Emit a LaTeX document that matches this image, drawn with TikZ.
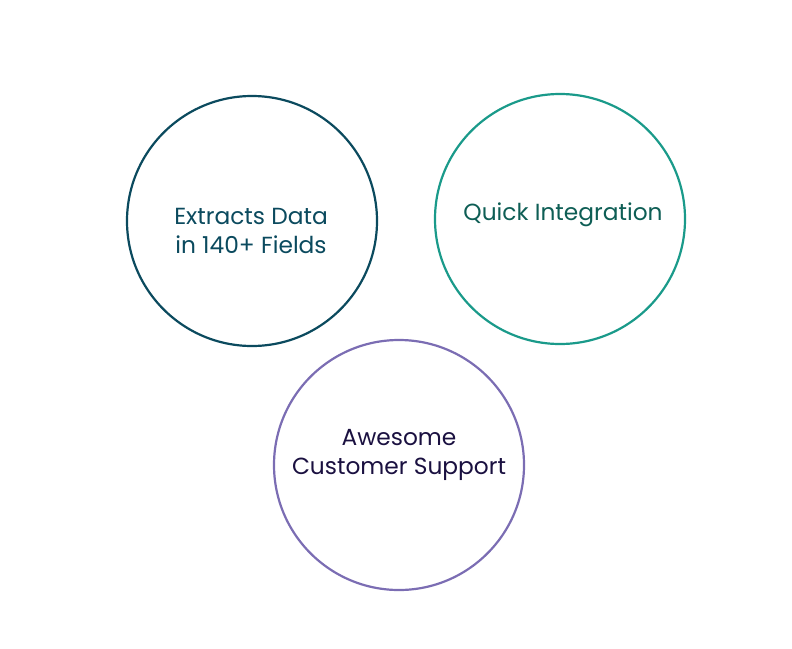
\documentclass[tikz,border=0pt]{standalone}
\usepackage{fontspec}
\setmainfont{Poppins}
\definecolor{cA}{HTML}{0B4A5E}
\definecolor{cB}{HTML}{1A9A8A}
\definecolor{cBt}{HTML}{0E5E55}
\definecolor{cC}{HTML}{7B6DB3}
\definecolor{cCt}{HTML}{1A1040}
\begin{document}
\begin{tikzpicture}[x=1pt,y=-1pt]
\tikzset{ring/.style={circle,minimum size=250pt,line width=2.2pt,draw},
lbl/.style={font=\fontsize{23.3}{29}\selectfont,align=center}}
\useasboundingbox (0,0) rectangle (792,648);
\node[ring,draw=cA] (c1) at (252,221) {};
\node[ring,draw=cB] (c2) at (560,219) {};
\node[ring,draw=cC] (c3) at (399,465) {};
\node[lbl,text=cA] (t1) at (251,231) {Extracts Data\\in 140+ Fields};
\node[lbl,text=cBt] (t2) at (563,215) {Quick Integration};
\node[lbl,text=cCt] (t3) at (399,455) {Awesome\\Customer Support};
\end{tikzpicture}
\end{document}
